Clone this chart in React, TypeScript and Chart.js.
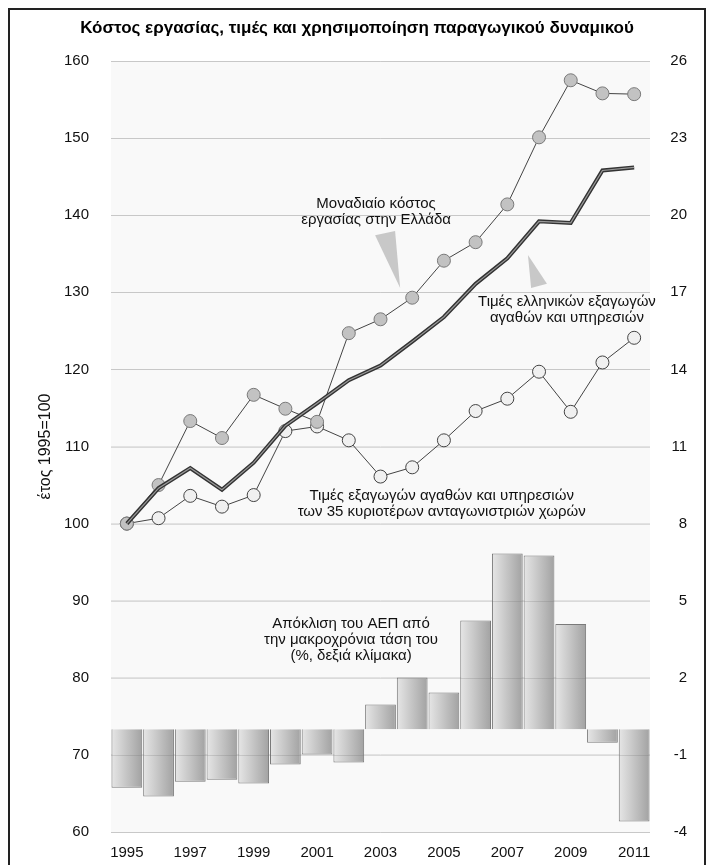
import React, { useEffect, useRef } from 'react';
import { Chart, registerables } from 'chart.js';

Chart.register(...registerables);

const years = ['1995', '1996', '1997', '1998', '1999', '2000', '2001', '2002', '2003', '2004', '2005', '2006', '2007', '2008', '2009', '2010', '2011'];
const unitLabourCost = [100, 105.0, 113.3, 111.1, 116.7, 114.9, 113.2, 124.7, 126.5, 129.3, 134.1, 136.5, 141.4, 150.1, 157.5, 155.8, 155.7];
const greekExportPrices = [100, 104.6, 107.2, 104.4, 107.9, 112.7, 115.6, 118.6, 120.5, 123.6, 126.8, 131.1, 134.4, 139.2, 139.0, 145.8, 146.2];
const competitorExportPrices = [100, 100.7, 103.6, 102.2, 103.7, 112.0, 112.6, 110.8, 106.1, 107.3, 110.8, 114.6, 116.2, 119.7, 114.5, 120.9, 124.1];
const outputGap = [-2.28, -2.62, -2.04, -1.97, -2.11, -1.37, -0.98, -1.30, 0.96, 2.01, 1.43, 4.23, 6.84, 6.76, 4.09, -0.53, -3.59];

const leftMin = 60;
const leftMax = 160;
const leftStep = 10;
const rightMin = -4;
const rightMax = 26;
const rightStep = 3;

const titleText = 'Κόστος εργασίας, τιμές και χρησιμοποίηση παραγωγικού δυναμικού';
const yTitleText = 'έτος 1995=100';

// annotations in data coordinates (category index, left-axis value)
const notes = [
  { x: 7.86, y: 141.45, lines: ['Μοναδιαίο κόστος', 'εργασίας στην Ελλάδα'] },
  { x: 13.88, y: 128.8, lines: ['Τιμές ελληνικών εξαγωγών', 'αγαθών και υπηρεσιών'] },
  { x: 9.93, y: 103.6, lines: ['Τιμές εξαγωγών αγαθών και υπηρεσιών', 'των 35 κυριοτέρων ανταγωνιστριών χωρών'] },
  { x: 7.07, y: 87.0, lines: ['Απόκλιση του ΑΕΠ από', 'την μακροχρόνια τάση του', '(%, δεξιά κλίμακα)'] },
];
const pointers = [
  [[7.83, 137.4], [8.46, 137.95], [8.62, 130.56]],
  [[12.65, 134.84], [12.75, 130.56], [13.25, 131.1]],
];

const FONT = "'Liberation Sans', Arial, Helvetica, sans-serif";
const BAR_INDEX = 4;

const annotPlugin = {
  id: 'annot',
  beforeDraw(chart: any) {
    const { ctx, chartArea } = chart;
    ctx.save();
    ctx.fillStyle = '#f9f9f9';
    ctx.fillRect(chartArea.left, chartArea.top, chartArea.width, chartArea.height);
    ctx.restore();
  },
  afterDatasetDraw(chart: any, args: any) {
    if (args.index !== BAR_INDEX) return;
    const { ctx, chartArea, scales } = chart;
    const ys = scales.y;
    ctx.save();
    ctx.strokeStyle = 'rgba(110,110,110,0.22)';
    ctx.lineWidth = 1;
    for (let v = leftMin; v <= leftMax; v += leftStep) {
      const py = Math.round(ys.getPixelForValue(v)) + 0.5;
      ctx.beginPath();
      ctx.moveTo(chartArea.left, py);
      ctx.lineTo(chartArea.right, py);
      ctx.stroke();
    }
    ctx.restore();
  },
  afterDatasetsDraw(chart: any) {
    const { ctx, scales } = chart;
    const xs = scales.x;
    const ys = scales.y;
    ctx.save();
    ctx.fillStyle = '#c8c8c8';
    pointers.forEach((tri) => {
      ctx.beginPath();
      tri.forEach((p, i) => {
        const px = xs.getPixelForValue(p[0]);
        const py = ys.getPixelForValue(p[1]);
        if (i === 0) ctx.moveTo(px, py);
        else ctx.lineTo(px, py);
      });
      ctx.closePath();
      ctx.fill();
    });
    ctx.fillStyle = '#111';
    ctx.font = `15px ${FONT}`;
    ctx.textAlign = 'center';
    ctx.textBaseline = 'middle';
    notes.forEach((n) => {
      const px = xs.getPixelForValue(n.x);
      const py = ys.getPixelForValue(n.y);
      n.lines.forEach((l, i) => ctx.fillText(l, px, py + i * 16));
    });
    ctx.restore();
  },
};

export default function App() {
  const ref = useRef<HTMLCanvasElement>(null);
  useEffect(() => {
    if (!ref.current) return;
    Chart.defaults.font.family = FONT;
    Chart.defaults.color = '#111';
    const barGradient = (c: any) => {
      const chart = c.chart;
      const area = chart.chartArea;
      if (!area || c.dataIndex === undefined) return '#cccccc';
      const cx = chart.scales.x.getPixelForValue(c.dataIndex);
      const w = (area.width / years.length) * 0.97;
      const g = chart.ctx.createLinearGradient(cx - w / 2, 0, cx + w / 2, 0);
      g.addColorStop(0, '#e6e6e6');
      g.addColorStop(1, '#a2a2a2');
      return g;
    };
    const chart = new Chart(ref.current, {
      type: 'bar',
      data: {
        labels: years,
        datasets: [
          {
            type: 'line',
            label: 'Τιμές ελληνικών εξαγωγών (inner)',
            data: greekExportPrices,
            yAxisID: 'y',
            borderColor: '#9a9a9a',
            borderWidth: 1.2,
            pointRadius: 0,
            order: 0,
          },
          {
            type: 'line',
            label: 'Τιμές ελληνικών εξαγωγών αγαθών και υπηρεσιών',
            data: greekExportPrices,
            yAxisID: 'y',
            borderColor: '#333333',
            borderWidth: 4,
            pointRadius: 0,
            order: 1,
          },
          {
            type: 'line',
            label: 'Μοναδιαίο κόστος εργασίας στην Ελλάδα',
            data: unitLabourCost,
            yAxisID: 'y',
            borderColor: '#444444',
            borderWidth: 1,
            pointRadius: 6.5,
            pointBackgroundColor: '#c2c2c2',
            pointBorderColor: '#7a7a7a',
            pointBorderWidth: 1,
            order: 2,
          },
          {
            type: 'line',
            label: 'Τιμές εξαγωγών των 35 κυριοτέρων ανταγωνιστριών χωρών',
            data: competitorExportPrices,
            yAxisID: 'y',
            borderColor: '#444444',
            borderWidth: 1,
            pointRadius: 6.5,
            pointBackgroundColor: '#f0f0f0',
            pointBorderColor: '#444444',
            pointBorderWidth: 1,
            order: 3,
          },
          {
            type: 'bar',
            label: 'Απόκλιση του ΑΕΠ από την μακροχρόνια τάση του',
            data: outputGap,
            yAxisID: 'y2',
            backgroundColor: barGradient,
            borderColor: '#7a7a7a',
            borderWidth: 1,
            barPercentage: 0.97,
            categoryPercentage: 1,
            order: 10,
          },
        ],
      },
      options: {
        responsive: false,
        animation: false,
        layout: { padding: { left: 17, top: 0, bottom: 0, right: 17 } },
        plugins: {
          legend: { display: false },
          tooltip: { enabled: false },
          title: {
            display: true,
            text: titleText,
            color: '#000',
            font: { size: 17, weight: 'bold', family: FONT, lineHeight: 1.2 },
            padding: { top: 8.5, bottom: 22.1 },
          },
        },
        scales: {
          x: {
            offset: true,
            grid: { display: false, drawTicks: false },
            border: { display: false },
            ticks: {
              autoSkip: false,
              maxRotation: 0,
              padding: 12,
              color: '#111',
              font: { size: 15 },
              callback: (v: any, i: number) => (i % 2 === 0 ? years[i] : ''),
            },
            afterFit: (s: any) => { s.height = 38; },
          },
          y: {
            position: 'left',
            min: leftMin,
            max: leftMax,
            grid: { color: '#e2e2e2', drawTicks: false },
            border: { display: false },
            ticks: { stepSize: leftStep, padding: 22, color: '#111', font: { size: 15 } },
            title: {
              display: true,
              text: yTitleText,
              color: '#111',
              font: { size: 16, lineHeight: 1.2 },
              padding: { top: 9.4, bottom: 0 },
            },
            afterFit: (s: any) => { s.width = 84; },
          },
          y2: {
            position: 'right',
            min: rightMin,
            max: rightMax,
            grid: { display: false, drawTicks: false },
            border: { display: false },
            ticks: { stepSize: rightStep, padding: 20, crossAlign: 'far', color: '#111', font: { size: 15 } },
            afterFit: (s: any) => { s.width = 37; },
          },
        },
      },
      plugins: [annotPlugin],
    } as any);
    return () => chart.destroy();
  }, []);
  return (
    <div style={{ width: 694, height: 860, border: '2px solid #222' }}>
      <canvas ref={ref} width={694} height={860} style={{ display: 'block' }} />
    </div>
  );
}
